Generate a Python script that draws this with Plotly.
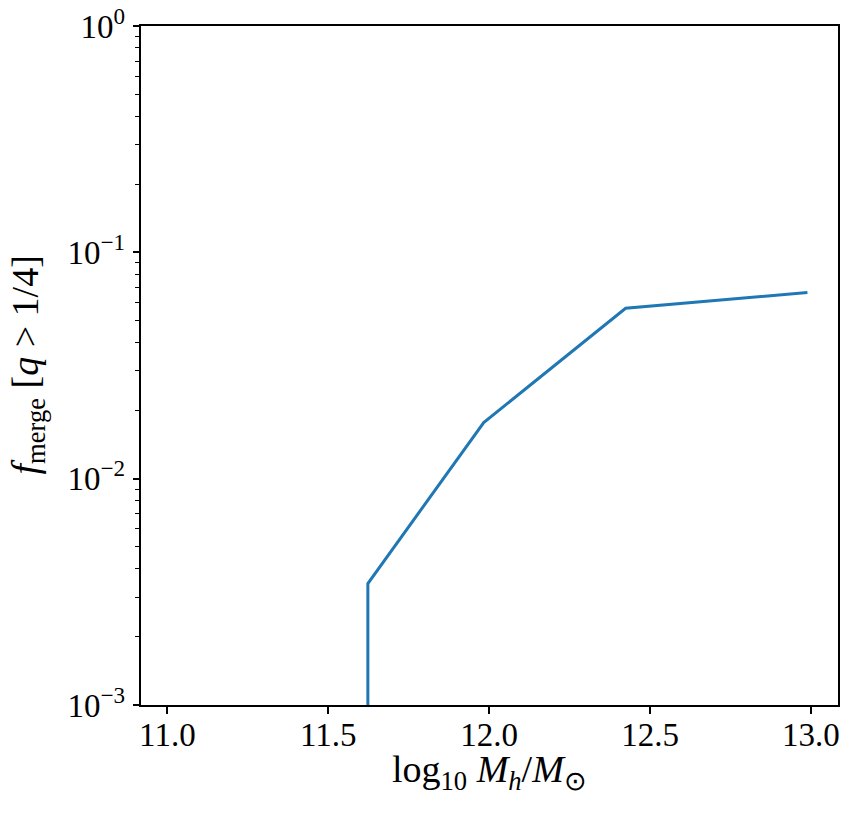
import plotly.graph_objects as go

# Data (log10 halo mass vs merger fraction)
log_mh = [11.623, 11.623, 11.983, 12.424, 12.989]
f_merge = [1e-6, 3.44e-3, 1.77e-2, 5.66e-2, 6.65e-2]

y_major_vals = [1e-3, 1e-2, 1e-1, 1e0]
y_major_text = ["10<sup>−3</sup>", "10<sup>−2</sup>", "10<sup>−1</sup>", "10<sup>0</sup>"]
x_tick_vals = [11.0, 11.5, 12.0, 12.5, 13.0]
x_tick_text = ["11.0", "11.5", "12.0", "12.5", "13.0"]

x_title = "log<sub>10</sub> <i>M</i><sub><i>h</i></sub>/<i>M</i><sub>⊙</sub>"
y_title = "<i>f</i><sub>merge</sub> [<i>q</i> > 1/4]"

minor_vals = [m * 10.0 ** e for e in (-3, -2, -1) for m in range(2, 10)]
all_y_vals = y_major_vals + minor_vals
all_y_text = y_major_text + [""] * len(minor_vals)

FONT = "Liberation Serif"

fig = go.Figure()
fig.add_trace(go.Scatter(
    x=log_mh, y=f_merge, mode="lines",
    line=dict(color="#1f77b4", width=3),
    showlegend=False, hoverinfo="skip",
))
# invisible copy on an overlaid axis that carries the longer major ticks
fig.add_trace(go.Scatter(
    x=log_mh, y=f_merge, xaxis="x", yaxis="y2", mode="lines",
    line=dict(color="rgba(0,0,0,0)", width=0),
    showlegend=False, hoverinfo="skip",
))

fig.update_layout(
    width=861, height=813,
    margin=dict(l=141, r=23, t=26, b=108, autoexpand=False),
    paper_bgcolor="white", plot_bgcolor="white",
    font=dict(family=FONT, size=33, color="black"),
    xaxis=dict(
        range=[10.918, 13.084],
        tickmode="array", tickvals=x_tick_vals, ticktext=x_tick_text,
        ticks="outside", ticklen=7, tickwidth=1.6, tickcolor="black",
        ticklabelstandoff=-7,
        showline=True, linecolor="black", linewidth=1.6, mirror=True,
        showgrid=False, zeroline=False, automargin=False,
        tickfont=dict(family=FONT, size=33, color="black"),
    ),
    yaxis=dict(
        type="log", range=[-3, 0],
        tickmode="array", tickvals=all_y_vals, ticktext=all_y_text,
        ticks="outside", ticklen=4.5, tickwidth=1.3, tickcolor="black",
        ticklabelstandoff=3,
        showline=True, linecolor="black", linewidth=1.6, mirror=True,
        showgrid=False, zeroline=False, automargin=False,
        tickfont=dict(family=FONT, size=33, color="black"),
    ),
    yaxis2=dict(
        type="log", range=[-3, 0], overlaying="y", anchor="x", side="left",
        tickmode="array", tickvals=y_major_vals,
        ticks="outside", ticklen=7, tickwidth=1.6, tickcolor="black",
        showgrid=False, zeroline=False, showline=False, showticklabels=False,
    ),
    annotations=[
        dict(text=x_title, xref="paper", yref="paper", x=0.5, y=0,
             xanchor="center", yanchor="middle", yshift=-67, showarrow=False,
             font=dict(family=FONT, size=38, color="black")),
        dict(text=y_title, xref="paper", yref="paper", x=0, y=0.5,
             xanchor="center", yanchor="middle", xshift=-114, textangle=-90,
             showarrow=False, font=dict(family=FONT, size=38, color="black")),
    ],
)

fig.write_html("out.html")
